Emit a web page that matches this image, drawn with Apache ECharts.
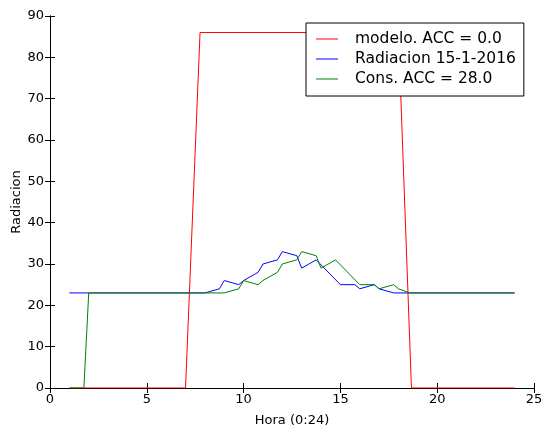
<!DOCTYPE html>
<html>
<head>
<meta charset="utf-8">
<script src="https://cdn.jsdelivr.net/npm/echarts@6/dist/echarts.min.js"></script>
<style>
  html, body { margin: 0; padding: 0; background: #fff; }
  #chart { width: 541px; height: 430px; }
</style>
</head>
<body>
<div id="chart"></div>
<script>
// datos: [hora, radiacion]
const seriesNames = ['modelo. ACC = 0.0', 'Radiacion 15-1-2016', 'Cons. ACC = 28.0'];

const modelo = [
  [1, 0], [7, 0], [7.75, 86], [18, 86], [18.67, 0], [24, 0]
];

const radiacion = [
  [1, 23], [8, 23], [8.75, 24], [9, 26], [9.75, 25], [10, 26], [10.75, 28],
  [11, 30], [11.75, 31], [12, 33], [12.75, 32], [13, 29], [13.75, 31],
  [15, 25], [15.75, 25], [16, 24], [16.75, 25], [17, 24], [17.75, 23], [24, 23]
];

const consumo = [
  [1, 0], [1.75, 0], [2, 23], [9, 23], [9.75, 24], [10, 26], [10.75, 25],
  [11, 26], [11.75, 28], [12, 30], [12.75, 31], [13, 33], [13.75, 32],
  [14, 29], [14.75, 31], [16, 25], [16.75, 25], [17, 24], [17.75, 25],
  [18, 24], [18.6, 23], [24, 23]
];

const colors = ['#ff0000', '#0000ff', '#008000'];

const chart = echarts.init(document.getElementById('chart'));

const font = 'DejaVu Sans';
const frameLine = { show: true, lineStyle: { color: '#000', width: 1 } };
const innerTick = { show: true, inside: true, length: 5, lineStyle: { color: '#000' } };
const axisText = { fontFamily: font, fontSize: 13, color: '#000' };

chart.setOption({
  animation: false,
  textStyle: { fontFamily: font },
  grid: { left: 50, right: 7, top: 16, bottom: 42, outerBoundsMode: 'none' },
  legend: {
    orient: 'vertical',
    left: 306,
    top: 23,
    padding: [8, 8, 9, 10],
    icon: 'rect',
    itemWidth: 22,
    itemHeight: 1,
    itemGap: 4,
    borderColor: '#000',
    borderWidth: 1,
    borderRadius: 0,
    backgroundColor: '#fff',
    textStyle: { fontFamily: font, fontSize: 15.5, color: '#000', padding: [0, 0, 0, 12] },
    data: seriesNames
  },
  xAxis: [
    {
      type: 'value', min: 0, max: 25, interval: 5,
      name: 'Hora (0:24)', nameLocation: 'middle', nameGap: 26,
      nameMoveOverlap: false,
      nameTextStyle: axisText,
      axisLine: frameLine, axisTick: innerTick,
      axisLabel: Object.assign({ margin: 5 }, axisText),
      splitLine: { show: false }
    },
    {
      type: 'value', min: 0, max: 25, interval: 5, position: 'top',
      axisLine: frameLine, axisTick: innerTick,
      axisLabel: { show: false }, splitLine: { show: false }
    }
  ],
  yAxis: [
    {
      type: 'value', min: 0, max: 90, interval: 10,
      name: 'Radiacion', nameLocation: 'middle', nameGap: 26.5,
      nameMoveOverlap: false,
      nameTextStyle: axisText,
      axisLine: frameLine, axisTick: innerTick,
      axisLabel: Object.assign({ margin: 6 }, axisText),
      splitLine: { show: false }
    },
    {
      type: 'value', min: 0, max: 90, interval: 10, position: 'right',
      axisLine: frameLine, axisTick: innerTick,
      axisLabel: { show: false }, splitLine: { show: false }
    }
  ],
  series: [
    { name: seriesNames[0], type: 'line', data: modelo, symbol: 'none',
      lineStyle: { color: colors[0], width: 1 }, itemStyle: { color: colors[0] } },
    { name: seriesNames[1], type: 'line', data: radiacion, symbol: 'none',
      lineStyle: { color: colors[1], width: 1 }, itemStyle: { color: colors[1] } },
    { name: seriesNames[2], type: 'line', data: consumo, symbol: 'none',
      lineStyle: { color: colors[2], width: 1 }, itemStyle: { color: colors[2] } }
  ]
});
</script>
</body>
</html>
